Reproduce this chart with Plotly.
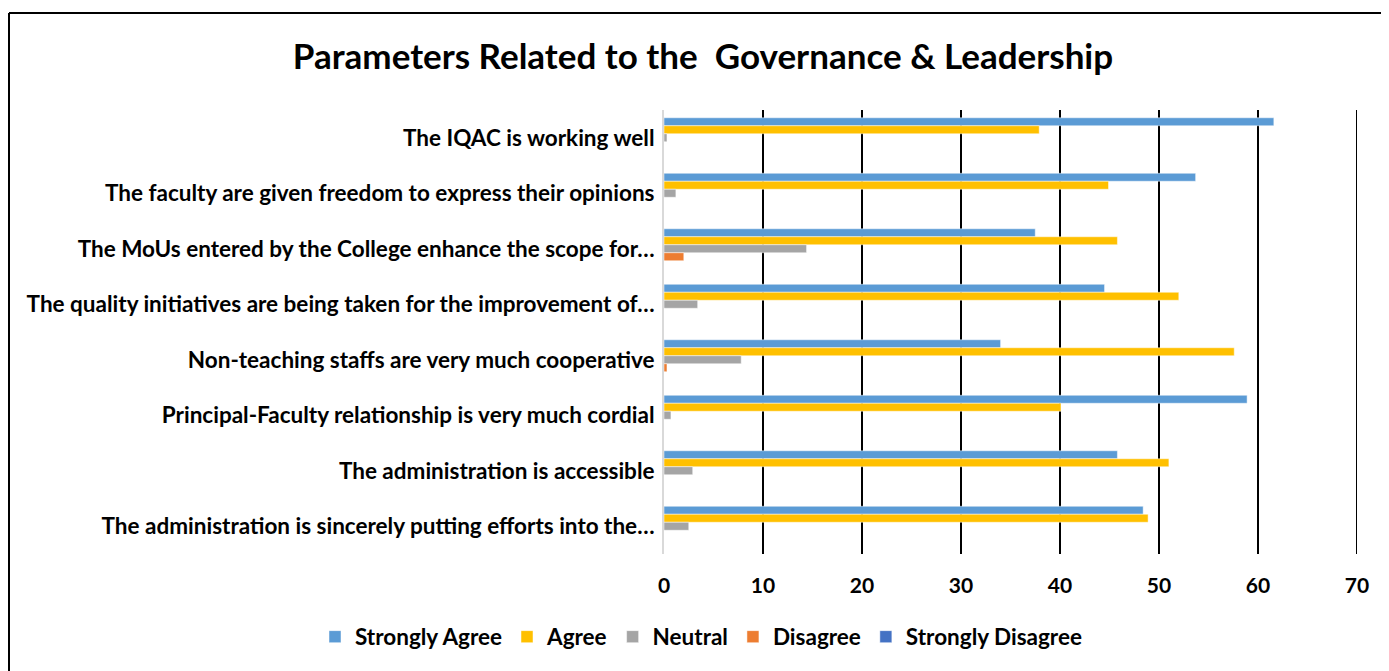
import plotly.graph_objects as go

categories = [
    "The IQAC is working well",
    "The faculty are given freedom to express their opinions",
    "The MoUs entered by the College enhance the scope for…",
    "The quality initiatives are being taken for the improvement of…",
    "Non-teaching staffs are very much cooperative",
    "Principal-Faculty relationship is very much cordial",
    "The administration is accessible",
    "The administration is sincerely putting efforts into the…",
]
strongly_agree = [61.6, 53.7, 37.5, 44.5, 34.0, 58.9, 45.8, 48.4]
agree = [37.9, 44.9, 45.8, 52.0, 57.6, 40.1, 51.0, 48.9]
neutral = [0.3, 1.2, 14.4, 3.4, 7.8, 0.7, 2.9, 2.5]
disagree = [0, 0, 2.0, 0, 0.3, 0, 0, 0]
strongly_disagree = [0, 0, 0, 0, 0, 0, 0, 0]

series = [
    ("Strongly Agree", strongly_agree, "#5B9BD5"),
    ("Agree", agree, "#FFC000"),
    ("Neutral", neutral, "#A5A5A5"),
    ("Disagree", disagree, "#ED7D31"),
    ("Strongly Disagree", strongly_disagree, "#4472C4"),
]

FONT = "Lato"
fig = go.Figure()
for name, vals, col in series:
    fig.add_trace(go.Bar(
        y=categories, x=vals, name="<b>" + name + "</b>", orientation="h",
        marker=dict(color=col, line=dict(color="rgba(255,255,255,0.6)", width=0.8)),
    ))

OFF = 8  # page body margin
W, H = 1381, 663
L, R, T, B = 656, 32, 102, 117
pw, ph = W - L - R, H - T - B

def px_x(v):
    return (v - OFF - L) / pw

def px_y(v):
    return (H - B - (v - OFF)) / ph

border = dict(color="black", width=2)
fig.update_layout(
    width=W, height=H,
    margin=dict(l=L, r=R, t=T, b=B),
    paper_bgcolor="white", plot_bgcolor="white",
    barmode="group", bargap=0.28, bargroupgap=0,
    title=dict(text="<b>Parameters Related to the  Governance &amp; Leadership</b>",
               x=(703 - OFF) / W, xref="container", xanchor="center",
               y=1 - (57 - OFF) / H, yref="container", yanchor="middle",
               font=dict(family=FONT, size=35, color="black")),
    font=dict(family=FONT, color="black"),
    legend=dict(orientation="h", x=px_x(315), xref="paper", xanchor="left",
                y=px_y(637), yref="paper", yanchor="middle",
                font=dict(family=FONT, size=22.5, color="black"),
                itemwidth=30, tracegroupgap=0, traceorder="normal"),
    xaxis=dict(range=[0, 70], dtick=10, showgrid=True, gridcolor="black", gridwidth=2,
               zeroline=False, showline=False,
               tickfont=dict(family=FONT, size=21, color="black"),
               tickprefix="<b>", ticksuffix="</b>", ticklabelstandoff=17),
    yaxis=dict(autorange="reversed", showgrid=False, showline=True, linecolor="#D9D9D9",
               linewidth=2, ticks="", ticklabelstandoff=3,
               tickfont=dict(family=FONT, size=22.5, color="black"),
               tickprefix="<b>", ticksuffix="</b>"),
    shapes=[
        dict(type="line", xref="paper", yref="paper",
             x0=px_x(9), x1=px_x(9), y0=px_y(700), y1=px_y(13), line=border),
        dict(type="line", xref="paper", yref="paper",
             x0=px_x(9), x1=px_x(1387), y0=px_y(13), y1=px_y(13), line=border),
        dict(type="line", xref="paper", yref="paper",
             x0=px_x(1387), x1=px_x(1387), y0=px_y(700), y1=px_y(13), line=border),
        dict(type="line", xref="x", yref="paper", x0=70, x1=70, y0=0, y1=1,
             line=dict(color="black", width=2), layer="below"),
    ],
)

fig.write_html("out.html")
